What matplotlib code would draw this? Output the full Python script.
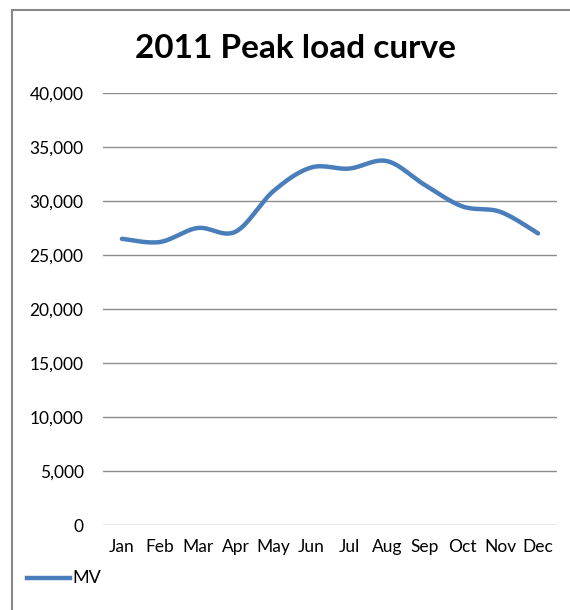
import numpy as np
import matplotlib.pyplot as plt
from matplotlib.patches import Rectangle
from matplotlib.lines import Line2D

months = ['Jan', 'Feb', 'Mar', 'Apr', 'May', 'Jun', 'Jul', 'Aug', 'Sep', 'Oct', 'Nov', 'Dec']
mv = [26500, 26200, 27500, 27150, 30900, 33100, 33000, 33700, 31500, 29500, 29000, 27000]
yticks = [0, 5000, 10000, 15000, 20000, 25000, 30000, 35000, 40000]


def smooth(x, y, n=30):
	# catmull-rom, like excel's smoothed line
	x = np.asarray(x, float)
	y = np.asarray(y, float)
	px = np.concatenate([[x[0]], x, [x[-1]]])
	py = np.concatenate([[y[0]], y, [y[-1]]])
	xs, ys = [], []
	t = np.linspace(0, 1, n)
	for i in range(1, len(px) - 2):
		for p, out in ((px, xs), (py, ys)):
			p0, p1, p2, p3 = p[i - 1], p[i], p[i + 1], p[i + 2]
			out.extend(0.5 * (2 * p1 + (-p0 + p2) * t + (2 * p0 - 5 * p1 + 4 * p2 - p3) * t ** 2
							+ (-p0 + 3 * p1 - 3 * p2 + p3) * t ** 3))
	return np.array(xs), np.array(ys)


plt.rcParams['font.family'] = ['Lato', 'DejaVu Sans']
fig = plt.figure(figsize=(5.7, 6.1), dpi=100)
ax = fig.add_axes([103 / 570, 1 - 525 / 610, 454 / 570, 432 / 610])

sx, sy = smooth(np.arange(len(months)), mv)
ax.plot(sx, sy, color='#4A7EBB', lw=3.2, solid_capstyle='round', zorder=3)

ax.set_xlim(-0.5, 11.5)
ax.set_ylim(0, 40000)
ax.set_yticks(yticks)
ax.set_yticklabels([f'{v:,}' for v in yticks], fontsize=12.5)
ax.set_xticks(range(len(months)))
ax.set_xticklabels(months, fontsize=12.5)
ax.tick_params(length=0)
ax.tick_params(axis='x', pad=10)
ax.tick_params(axis='y', pad=14)
ax.grid(axis='y', color='#8c8c8c', lw=1)
ax.set_axisbelow(True)
for s in ax.spines.values():
	s.set_visible(False)

fig.text(295 / 570, 1 - 48 / 610, '2011 Peak load curve', ha='center', va='center',
		 fontsize=24, fontweight='bold')

# legend at bottom left
fig.add_artist(Line2D([27 / 570, 70 / 570], [1 - 578 / 610] * 2, color='#4A7EBB', lw=3.2))
fig.text(72 / 570, 1 - 578 / 610, 'MV', va='center', fontsize=13)

# chart border
fig.add_artist(Rectangle((12 / 570, -0.05), 1.1, 1 - 10 / 610 + 0.05, fill=False,
						 edgecolor='#888888', lw=1.5))

fig.savefig('out.png', dpi=100)
